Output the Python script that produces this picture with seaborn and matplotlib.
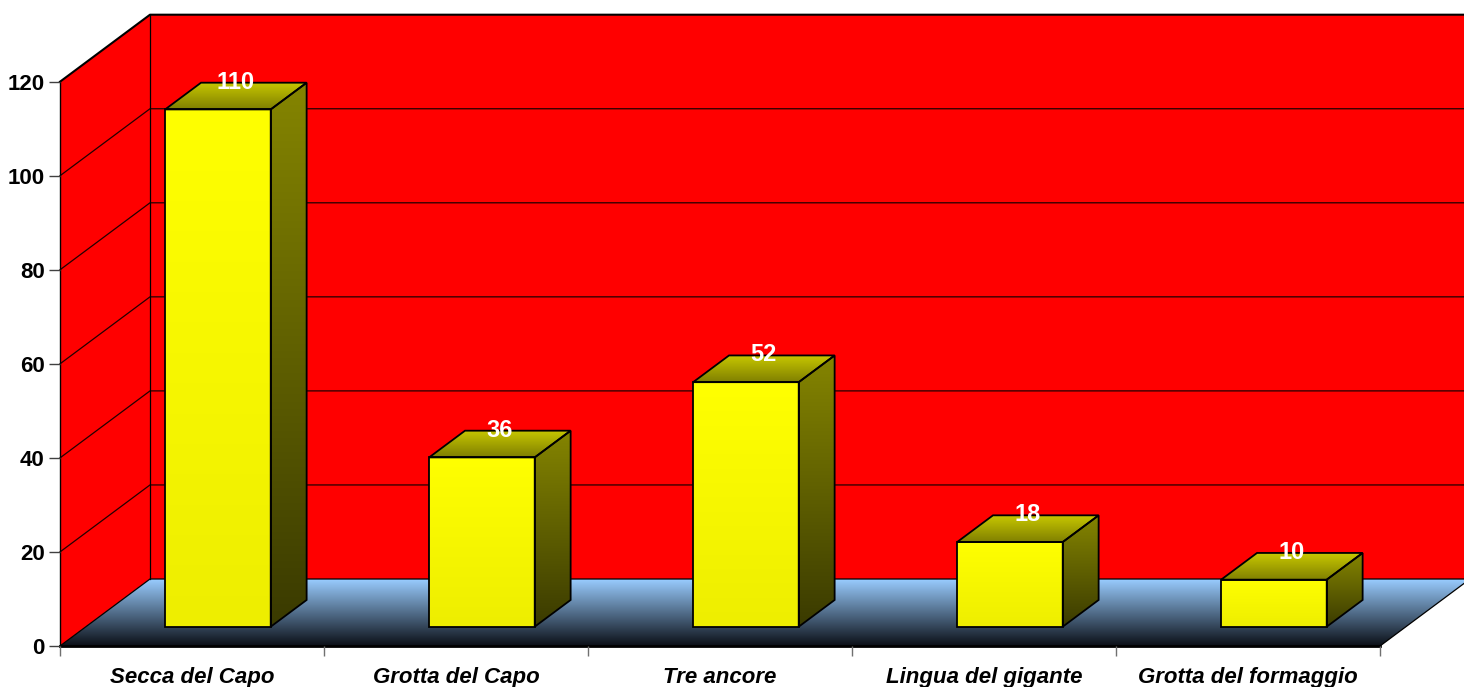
import numpy as np
import pandas as pd
import matplotlib
matplotlib.use("Agg")
import matplotlib.pyplot as plt
from matplotlib.colors import LinearSegmentedColormap
from matplotlib.patches import Polygon
import seaborn as sns

# ---- data -------------------------------------------------------------
sites = ["Secca del Capo", "Grotta del Capo", "Tre ancore",
         "Lingua del gigante", "Grotta del formaggio"]
counts = [110, 36, 52, 18, 10]
y_ticks = [0, 20, 40, 60, 80, 100, 120]

# ---- layout -----------------------------------------------------------
W, H, DPI = 1464, 687, 100
left_px, right_px, base_px, top_px = 60, 1380, 646, 81.7   # front plane of the box
depth_px = (90, 67)          # oblique shift from front plane to back wall
front_d, back_d = 0.288, 0.687   # depth span of each bar inside the box
FS = 16
FS_VAL = 17

plt.rcParams["font.family"] = ["Liberation Sans", "DejaVu Sans"]

fig = plt.figure(figsize=(W / DPI, H / DPI), dpi=DPI)
ax = fig.add_axes([left_px / W, (H - base_px) / H,
                   (right_px - left_px) / W, (base_px - top_px) / H])

n = len(sites)
ymax = y_ticks[-1]
x_lo, x_hi = -0.5, n - 0.5
dxc = depth_px[0] / ((right_px - left_px) / n)     # depth shift in category units
dyv = depth_px[1] / ((base_px - top_px) / ymax)    # depth shift in value units


def proj(x, v, d):
    """Oblique projection of (category x, value v, depth d) to data coords."""
    return (x + d * dxc, v + d * dyv)


def poly(points, **kw):
    p = Polygon(points, closed=True, clip_on=False, **kw)
    ax.add_patch(p)
    return p


def gradient(patch, c_low, c_high, extent, z):
    cmap = LinearSegmentedColormap.from_list("g", [c_low, c_high])
    grad = np.linspace(0, 1, 256).reshape(-1, 1)
    im = ax.imshow(grad, cmap=cmap, extent=extent, origin="lower",
                   aspect="auto", interpolation="bilinear", zorder=z)
    im.set_clip_path(patch)
    im.set_clip_box(fig.bbox)
    return im


# ---- bars (front faces) -------------------------------------------------
df = pd.DataFrame({"site": sites, "count": counts})
sns.barplot(data=df, x="site", y="count", width=0.4, color="#FFFF00",
            saturation=1, edgecolor="black", linewidth=1.3, ax=ax, zorder=3.2)
bars = list(ax.containers[0])

# ---- box: back wall, side wall, floor ----------------------------------
red = "#FF0000"
poly([proj(x_lo, 0, 1), proj(x_hi, 0, 1), proj(x_hi, ymax, 1), proj(x_lo, ymax, 1)],
     facecolor=red, edgecolor="none", zorder=0.5)
poly([proj(x_lo, 0, 0), proj(x_lo, 0, 1), proj(x_lo, ymax, 1), proj(x_lo, ymax, 0)],
     facecolor=red, edgecolor="none", zorder=0.5)
floor = poly([proj(x_lo, 0, 0), proj(x_hi, 0, 0), proj(x_hi, 0, 1), proj(x_lo, 0, 1)],
             facecolor="none", edgecolor="none", zorder=0.6)
gradient(floor, "#0b0f16", "#99CCFF",
         (x_lo, x_hi + dxc, 0, dyv), 0.6)

# grid lines on side and back walls
for t in y_ticks[1:-1]:
    xs, ys = zip(proj(x_lo, t, 0), proj(x_lo, t, 1), proj(x_hi, t, 1))
    ax.plot(xs, ys, color="#220000", lw=0.9, zorder=0.7, clip_on=False)

# box edges
edge_kw = dict(color="black", clip_on=False, zorder=0.8)
xs, ys = zip(proj(x_lo, ymax, 0), proj(x_lo, ymax, 1), proj(x_hi, ymax, 1))
ax.plot(xs, ys, lw=1.5, **edge_kw)
xs, ys = zip(proj(x_lo, 0, 0), proj(x_lo, 0, 1), proj(x_hi, 0, 1), proj(x_hi, 0, 0))
ax.plot(xs, ys, lw=0.9, **edge_kw)
xs, ys = zip(proj(x_lo, 0, 1), proj(x_lo, ymax, 1))
ax.plot(xs, ys, lw=0.9, **edge_kw)

# ---- bars: 3-D faces, gradients and labels ------------------------------
for bar, v in zip(bars, counts):
    x0 = bar.get_x()
    w = bar.get_width()
    x1 = x0 + w
    fx, fy = proj(x0, 0, front_d)
    bar.set_x(fx)
    bar.set_y(fy)
    bar.set_facecolor("none")
    gradient(bar, "#EEEE00", "#FFFF00", (fx, fx + w, fy, fy + v), 3.1)

    side = poly([proj(x1, 0, front_d), proj(x1, 0, back_d),
                 proj(x1, v, back_d), proj(x1, v, front_d)],
                facecolor="none", edgecolor="black", lw=1.3, zorder=3.2)
    gradient(side, "#3A3A00", "#858500",
             (x1 + front_d * dxc, x1 + back_d * dxc, front_d * dyv, v + back_d * dyv), 3.1)

    top = poly([proj(x0, v, front_d), proj(x1, v, front_d),
                proj(x1, v, back_d), proj(x0, v, back_d)],
               facecolor="none", edgecolor="black", lw=1.3, zorder=3.2)
    gradient(top, "#808000", "#C8C800",
             (x0 + front_d * dxc, x1 + back_d * dxc, v + front_d * dyv, v + back_d * dyv), 3.1)

    cx = x0 + w / 2 + (front_d + back_d) / 2 * dxc
    ax.annotate(str(v), xy=(cx, v + back_d * dyv), xytext=(0, -6),
                textcoords="offset pixels", ha="center", va="baseline",
                color="white", fontsize=FS_VAL, fontweight="bold",
                annotation_clip=False, zorder=5)

# ---- axes -------------------------------------------------------------
ax.set_autoscale_on(False)
ax.set_xlim(x_lo, x_hi)
ax.set_ylim(0, ymax)
ax.set_xlabel("")
ax.set_ylabel("")

ax.set_xticks(np.arange(n + 1) - 0.5)
ax.set_xticklabels([])
ax.set_xticks(np.arange(n), minor=True)
ax.set_xticklabels(sites, minor=True, fontsize=FS, fontweight="bold", style="italic")
ax.tick_params(axis="x", which="major", length=7.5, width=1, color="#707070", direction="out")
ax.tick_params(axis="x", which="minor", length=0, pad=26.4)
for lab in ax.get_xticklabels(minor=True):
    lab.set_verticalalignment("baseline")

ax.set_yticks(y_ticks)
ax.set_yticklabels([str(t) for t in y_ticks], fontsize=FS, fontweight="bold")
ax.tick_params(axis="y", length=8, width=1, color="#404040", pad=3)

for s in ("top", "right"):
    ax.spines[s].set_visible(False)
ax.spines["left"].set_linewidth(1.0)
ax.spines["bottom"].set_linewidth(2.0)
ax.spines["left"].set_zorder(0.9)
ax.spines["bottom"].set_zorder(0.9)
ax.patch.set_visible(False)

fig.savefig("out.png", dpi=DPI, facecolor="white")
